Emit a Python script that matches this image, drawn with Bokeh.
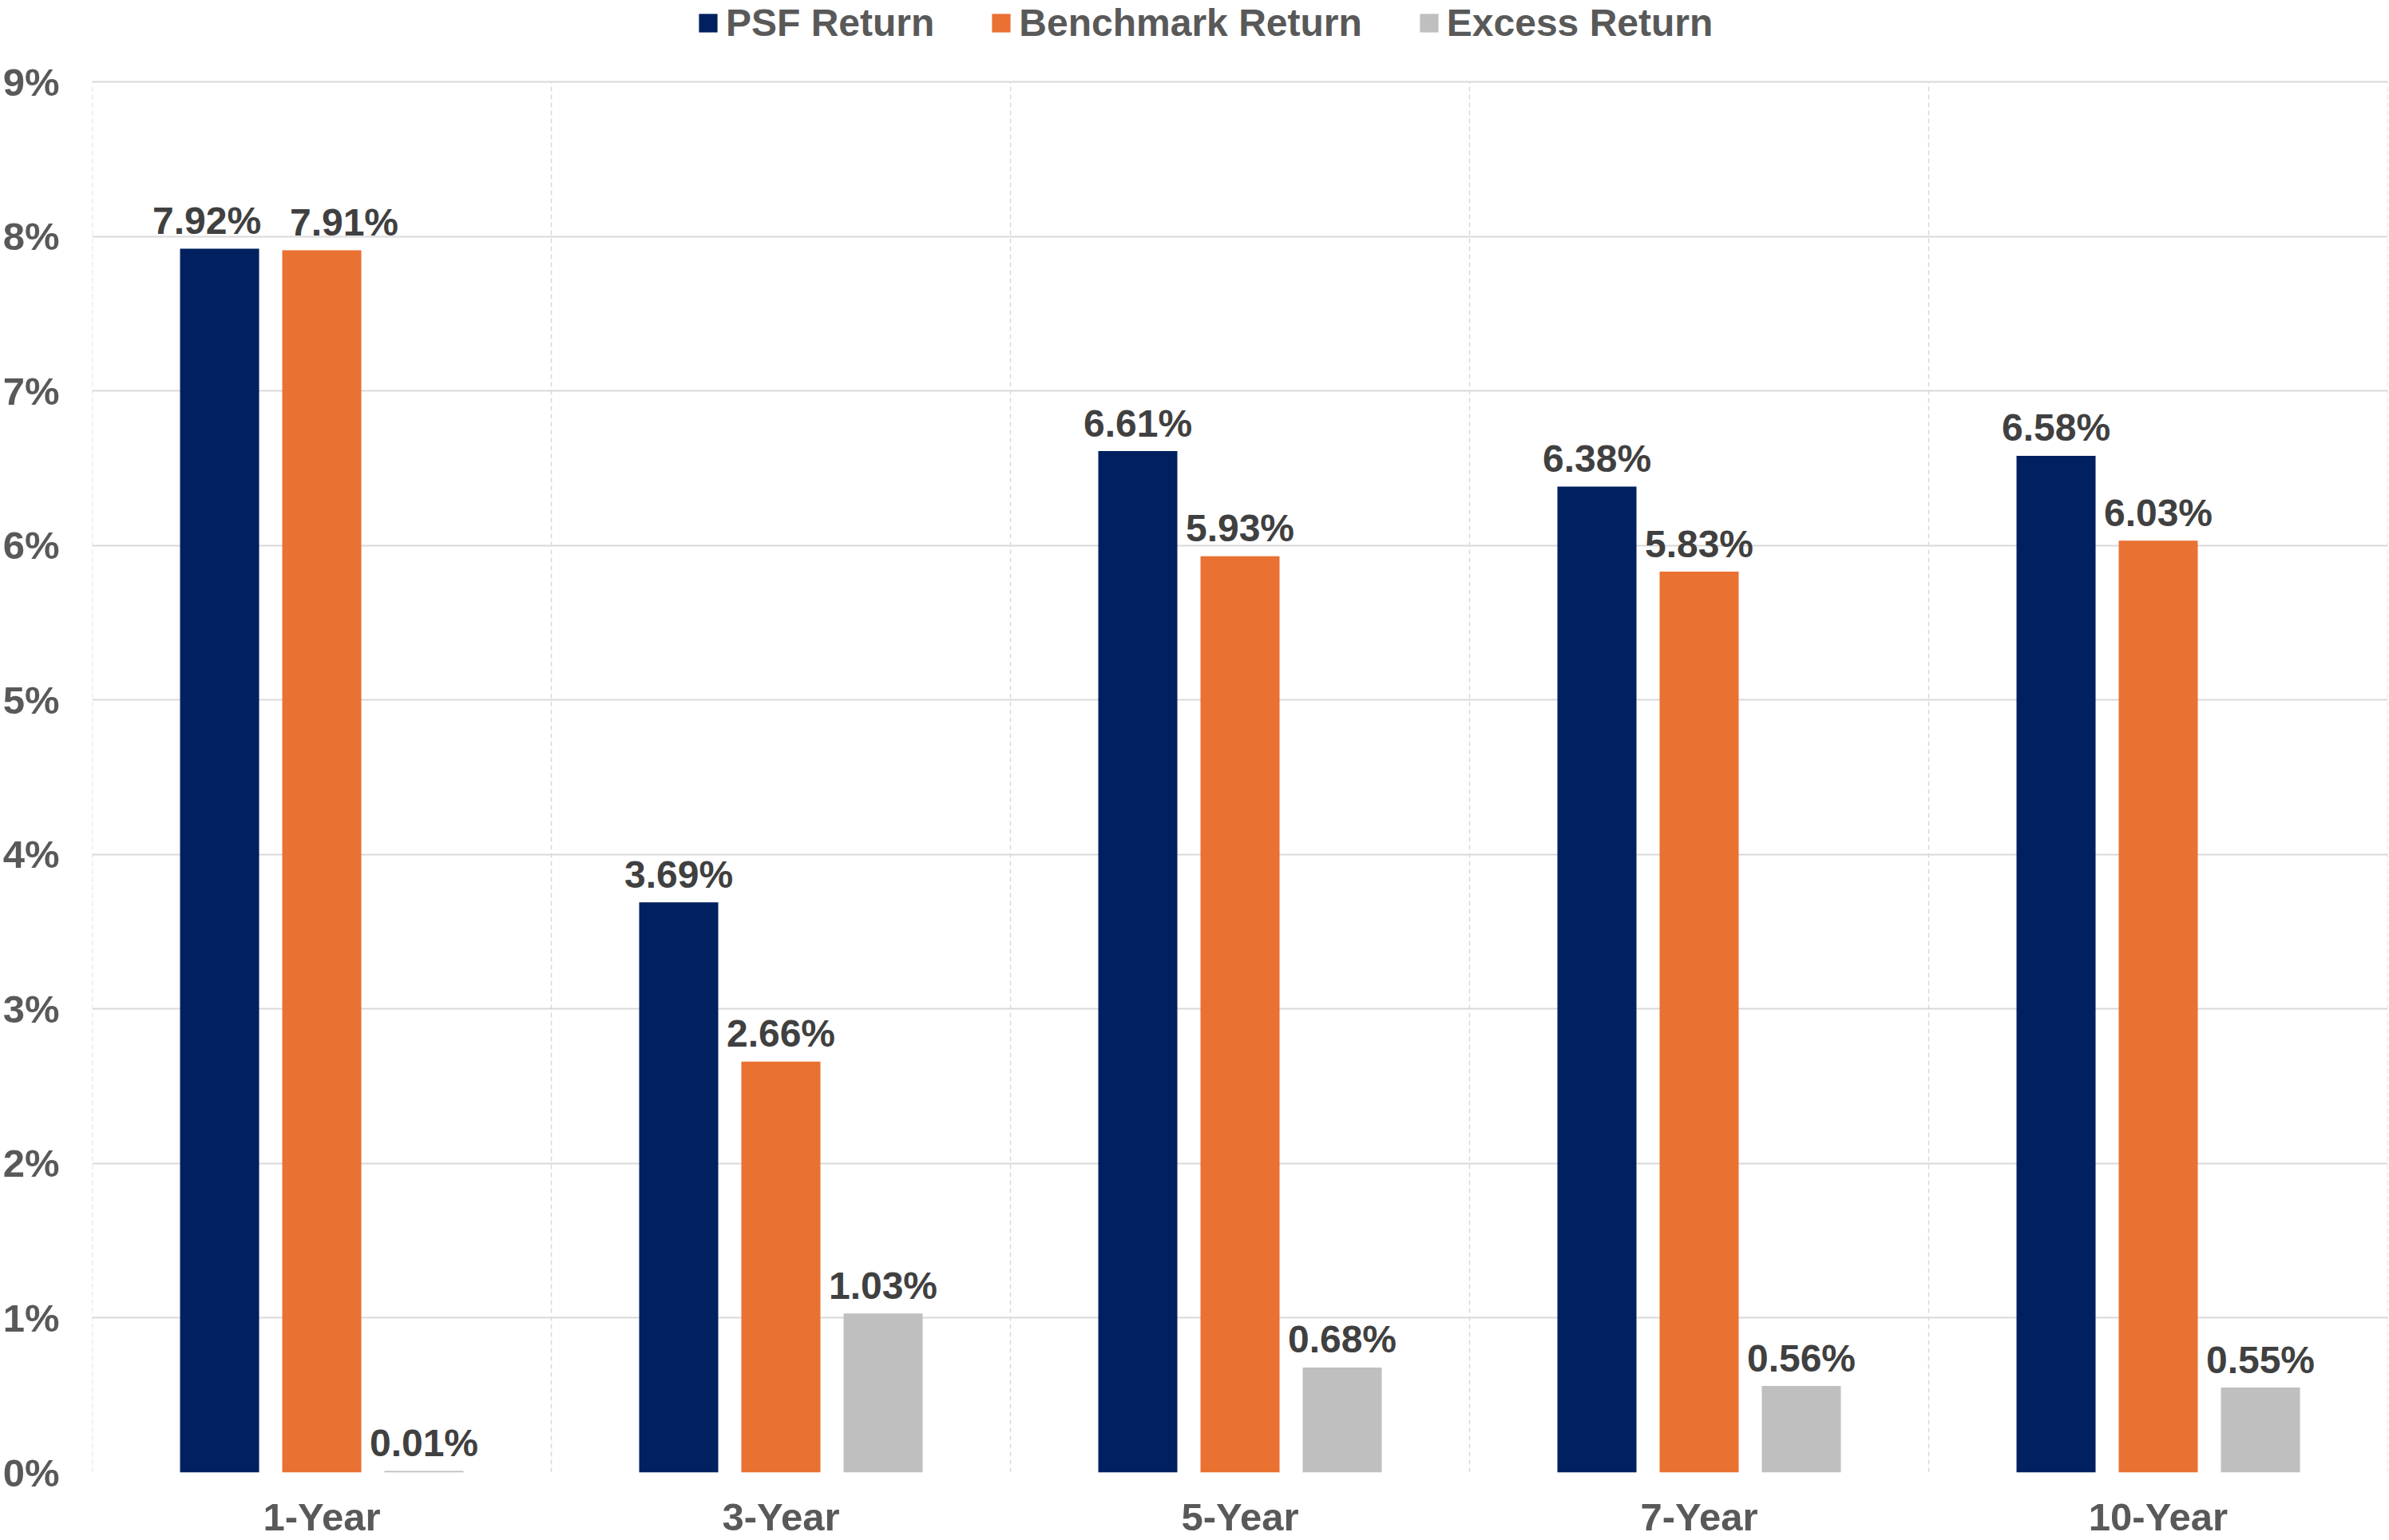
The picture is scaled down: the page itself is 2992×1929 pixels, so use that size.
from bokeh.plotting import figure
from bokeh.models import (ColumnDataSource, Legend, LegendItem, SingleIntervalTicker,
                          PrintfTickFormatter, FactorRange, BoxAnnotation)
from bokeh.core.properties import value
from bokeh.transform import dodge
from bokeh.embed import file_html
from bokeh.resources import INLINE

categories = ["1-Year", "3-Year", "5-Year", "7-Year", "10-Year"]
psf_return = [7.92, 3.69, 6.61, 6.38, 6.58]
benchmark_return = [7.91, 2.66, 5.93, 5.83, 6.03]
excess_return = [0.01, 1.03, 0.68, 0.56, 0.55]
series_names = ["PSF Return", "Benchmark Return", "Excess Return"]
y_ticks_max = 9

# style / layout
colors = ["#002060", "#E97132", "#BFBFBF"]
offsets = [-0.2226, 0.0, 0.2226]
label_x_shift = [[-16, 0, 0, 0, 0], [28, 0, 0, 0, 0], [0, 0, 0, 0, 0]]
FONT = "Liberation Sans"
W, H = 2992, 1929
TOP_GAP, BOTTOM = 102, 85
frame_h = H - BOTTOM
y_top = y_ticks_max * frame_h / (frame_h - TOP_GAP)   # headroom for the legend

p = figure(x_range=FactorRange(*categories, range_padding=0, factor_padding=0),
           y_range=(0, y_top), width=W, height=H,
           output_backend="svg", toolbar_location=None,
           min_border_left=114, min_border_right=2, min_border_top=0,
           min_border_bottom=BOTTOM)
p.outline_line_color = None
p.background_fill_color = "white"

# vertical dashed separators between categories
nb = len(categories) + 1
p.segment(x0=list(range(nb)), y0=[0] * nb, x1=list(range(nb)), y1=[y_ticks_max] * nb,
          line_color="#D9D9D9", line_width=1.5, line_dash="6 4")

series = [psf_return, benchmark_return, excess_return]
items = []
for i, (name, vals) in enumerate(zip(series_names, series)):
    src = ColumnDataSource(dict(cat=categories, val=vals,
                                lbl=[f"{v:.2f}%" for v in vals],
                                dx=label_x_shift[i]))
    r = p.vbar(x=dodge("cat", offsets[i], range=p.x_range), top="val", width=0.1722,
               source=src, fill_color=colors[i], line_color=None)
    p.text(x=dodge("cat", offsets[i], range=p.x_range), y="val", text="lbl", source=src,
           text_align="center", text_baseline="alphabetic", y_offset=-35, x_offset="dx",
           text_font=value(FONT), text_font_style="bold", text_font_size="48px",
           text_color="#404040")
    items.append(LegendItem(label=name, renderers=[r]))

# grids
p.xgrid.grid_line_color = None
p.ygrid.grid_line_color = "#D9D9D9"
p.ygrid.grid_line_width = 2
p.yaxis.ticker = SingleIntervalTicker(interval=1)

# axes
for ax in (p.xaxis, p.yaxis):
    ax.axis_line_color = None
    ax.major_tick_line_color = None
    ax.minor_tick_line_color = None
    ax.major_tick_in = 0
    ax.major_tick_out = 0
    ax.major_label_text_font = FONT
    ax.major_label_text_font_style = "bold"
    ax.major_label_text_font_size = "49px"
    ax.major_label_text_color = "#595959"
p.yaxis.formatter = PrintfTickFormatter(format="%d%%")
p.yaxis.major_label_standoff = 37
p.xaxis.major_label_standoff = 28

legend = Legend(items=items, orientation="horizontal", location=(757, frame_h - 56),
                label_text_font=FONT, label_text_font_style="bold",
                label_text_font_size="48px", label_text_color="#595959",
                glyph_width=29, glyph_height=29, label_standoff=8, spacing=69,
                padding=0, margin=0, border_line_color=None, background_fill_alpha=0)
p.add_layout(legend, "center")

# small page decoration in the bottom-right corner of the reference screenshot
p.add_layout(BoxAnnotation(left=2932, right=2992, top=1885, bottom=1929,
                           left_units="canvas", right_units="canvas",
                           top_units="canvas", bottom_units="canvas",
                           fill_color="#005F8E", fill_alpha=1, line_color=None))
p.add_layout(BoxAnnotation(left=2932, right=2992, top=1878, bottom=1885,
                           left_units="canvas", right_units="canvas",
                           top_units="canvas", bottom_units="canvas",
                           fill_color="#E8732A", fill_alpha=1, line_color=None))

open("out.html", "w").write(file_html(p, INLINE))
